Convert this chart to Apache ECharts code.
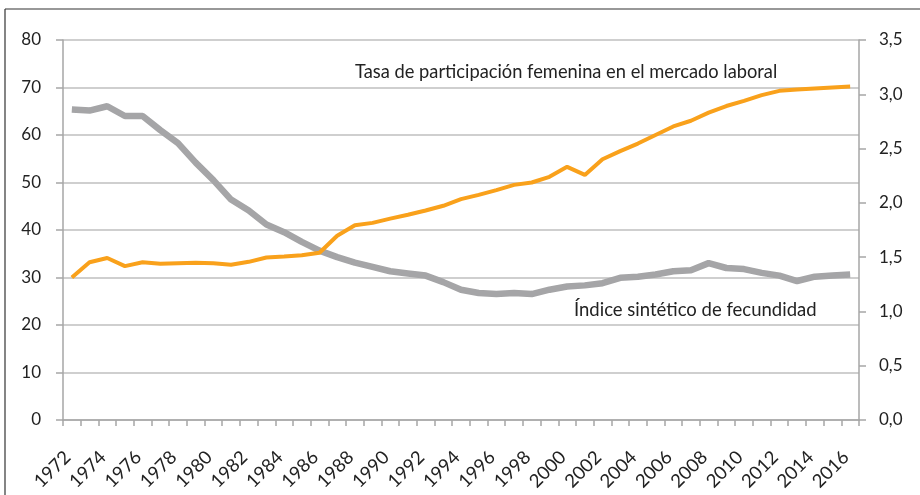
<!DOCTYPE html>
<html><head><meta charset="utf-8">
<script src="https://cdn.jsdelivr.net/npm/echarts@6/dist/echarts.min.js"></script>
<style>html,body{margin:0;padding:0;background:#fff}#c{width:920px;height:495px}</style>
</head><body><div id="c"></div>
<script>
const years = [];
for (let y = 1972; y <= 2016; y++) years.push(String(y));
const participacion = [30.0,33.2,34.1,32.4,33.2,32.9,33.0,33.1,33.0,32.7,33.3,34.2,34.4,34.7,35.2,38.8,41.0,41.5,42.4,43.2,44.1,45.1,46.5,47.4,48.4,49.5,50.0,51.2,53.3,51.6,54.9,56.6,58.2,60.0,61.8,63.0,64.7,66.1,67.2,68.4,69.3,69.6,69.8,70.0,70.2];
const fecundidad = [2.86,2.85,2.89,2.80,2.80,2.67,2.55,2.37,2.21,2.03,1.93,1.80,1.73,1.64,1.56,1.50,1.45,1.41,1.37,1.35,1.33,1.27,1.20,1.17,1.16,1.17,1.16,1.20,1.23,1.24,1.26,1.31,1.32,1.34,1.37,1.38,1.445,1.40,1.39,1.355,1.33,1.28,1.32,1.33,1.34];
const leftTicks = [0,10,20,30,40,50,60,70,80];
const rightTicks = ['0,0','0,5','1,0','1,5','2,0','2,5','3,0','3,5'];

const FONT = 'Lato';
const chart = echarts.init(document.getElementById('c'));
chart.setOption({
  animation: false,
  grid: {left: 63, right: 61, top: 40, bottom: 75, containLabel: false},
  xAxis: {
    type: 'category', data: years, boundaryGap: true,
    axisLine: {lineStyle: {color: '#A6A6A6', width: 1.5}},
    axisTick: {show: true, interval: 0, length: 6, lineStyle: {color: '#A6A6A6', width: 1.5}},
    axisLabel: {interval: 1, rotate: 45, color: '#222', fontFamily: FONT, fontSize: 18.5, margin: 30,
      align: 'right', verticalAlign: 'middle', padding: [0, 6, 0, 0]},
    splitLine: {show: false}
  },
  yAxis: [{
    type: 'value', min: 0, max: 80, interval: 10, position: 'left',
    axisLine: {show: true, lineStyle: {color: '#A6A6A6', width: 1.5}},
    axisTick: {show: true, length: 7, lineStyle: {color: '#A6A6A6', width: 1.5}},
    axisLabel: {color: '#222', fontFamily: FONT, fontSize: 17, margin: 22},
    splitLine: {show: true, lineStyle: {color: '#BFBFBF', width: 1.5}}
  }, {
    type: 'value', min: 0, max: 3.5, interval: 0.5, position: 'right',
    axisLine: {show: true, lineStyle: {color: '#A6A6A6', width: 1.5}},
    axisTick: {show: true, length: 7, lineStyle: {color: '#A6A6A6', width: 1.5}},
    axisLabel: {color: '#222', fontFamily: FONT, fontSize: 17, margin: 20, align: 'left',
      formatter: v => rightTicks[Math.round(v / 0.5)]},
    splitLine: {show: false}
  }],
  series: [{
    name: 'Tasa de participación femenina en el mercado laboral',
    type: 'line', yAxisIndex: 0, data: participacion, symbol: 'none',
    lineStyle: {color: '#F9A11B', width: 4}, z: 3
  }, {
    name: 'Índice sintético de fecundidad',
    type: 'line', yAxisIndex: 1, data: fecundidad, symbol: 'none',
    lineStyle: {color: '#A5A5A7', width: 6.5}, z: 2
  }],
  graphic: [
    {type: 'line', shape: {x1: 5, y1: 9, x2: 920, y2: 9}, style: {stroke: '#333', lineWidth: 1.2}},
    {type: 'line', shape: {x1: 5, y1: 9, x2: 5, y2: 495}, style: {stroke: '#333', lineWidth: 1.2}},
    {type: 'text', x: 355, y: 72, style: {text: 'Tasa de participación femenina en el mercado laboral', fill: '#222', font: '18.3px Lato', textVerticalAlign: 'middle'}},
    {type: 'text', x: 574, y: 310, style: {text: 'Índice sintético de fecundidad', fill: '#222', font: '18.5px Lato', textVerticalAlign: 'middle'}}
  ]
});
</script></body></html>
